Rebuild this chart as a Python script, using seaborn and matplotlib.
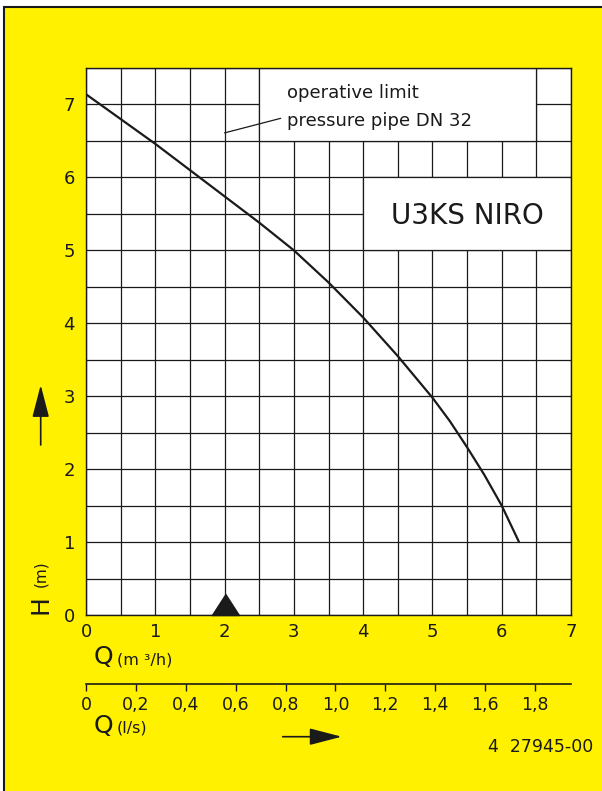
"""
Pump curve U3KS NIRO: head H over flow Q, with l/s scale below.
"""

import matplotlib
matplotlib.use("Agg")
import matplotlib.pyplot as plt
import seaborn as sns
from matplotlib.patches import Rectangle

# Curve data
flow_m3h = [0.0, 0.5, 1.0, 1.5, 2.0, 2.5, 3.0, 3.5, 4.0, 4.5, 5.0, 5.25, 5.5, 5.75, 6.0, 6.25]
head_m = [7.14, 6.80, 6.46, 6.10, 5.74, 5.38, 5.00, 4.56, 4.08, 3.55, 2.98, 2.66, 2.30, 1.92, 1.50, 1.00]

# triangle marker on the Q axis
mark_q = [2.0]
mark_h = [0.0]

# leader line of the "operative limit" note
leader_q = [2.0, 2.81]
leader_h = [6.61, 6.81]

q_ticks = [0, 1, 2, 3, 4, 5, 6, 7]
h_ticks = [0, 1, 2, 3, 4, 5, 6, 7]
ls_ticks = [0, 0.2, 0.4, 0.6, 0.8, 1.0, 1.2, 1.4, 1.6, 1.8]
ls_labels = ["0", "0,2", "0,4", "0,6", "0,8", "1,0", "1,2", "1,4", "1,6", "1,8"]

YELLOW = "#FFF100"
INK = "#1a1a1a"

sns.set_style("white")
plt.rcParams["font.family"] = ["DejaVu Sans"]

W, H = 602, 791
fig = plt.figure(figsize=(W / 100, H / 100), dpi=100)
fig.patch.set_facecolor("white")

# yellow sheet with frame on top/left
fig.add_artist(Rectangle((4 / W, -0.01), 1.0, 1 - 7 / H + 0.01, transform=fig.transFigure,
                         facecolor=YELLOW, edgecolor=INK, linewidth=1.5, zorder=0))


def px(x, y):
    """pixel (from top-left) -> figure fraction"""
    return x / W, 1 - y / H


left, bottom = 86 / W, 1 - 615 / H
ax = fig.add_axes([left, bottom, (571 - 86) / W, (615 - 68) / H])
ax.set_facecolor("white")

sns.lineplot(x=flow_m3h, y=head_m, color=INK, linewidth=1.6, ax=ax, zorder=3)
ax.plot(leader_q, leader_h, color=INK, linewidth=0.9, zorder=4)
ax.plot(mark_q, mark_h, linestyle="none", color=INK, clip_on=False, zorder=5,
        marker=[(-1, 0), (1, 0), (0, 1.55)], markersize=31)

ax.set_xlim(0, 7)
ax.set_ylim(0, 7.5)
ax.set_xticks(q_ticks)
ax.set_yticks(h_ticks)
ax.set_xticks([v + 0.5 for v in q_ticks[:-1]], minor=True)
ax.set_yticks([v + 0.5 for v in h_ticks], minor=True)
ax.set_axisbelow(True)
ax.grid(which="both", color=INK, linewidth=0.9)
ax.tick_params(which="both", length=0, labelsize=13, colors=INK)
ax.tick_params(axis="x", pad=6)
ax.tick_params(axis="y", pad=8)
for s in ax.spines.values():
    s.set_color(INK)
    s.set_linewidth(1.0)

# white note boxes laid over the grid
ax.add_patch(Rectangle((2.5, 6.5), 4.0, 1.0, facecolor="white", edgecolor=INK,
                       linewidth=0.9, zorder=2.5))
ax.add_patch(Rectangle((4.0, 5.0), 3.0, 1.0, facecolor="white", edgecolor=INK,
                       linewidth=0.9, zorder=2.5))
ax.text(2.9, 7.16, "operative limit", fontsize=13, va="center", ha="left", color=INK, zorder=6)
ax.text(2.9, 6.77, "pressure pipe DN 32", fontsize=13, va="center", ha="left", color=INK, zorder=6)
ax.text(5.5, 5.47, "U3KS NIRO", fontsize=20, va="center", ha="center", color=INK, zorder=6)

# second flow scale in l/s
ax2 = ax.secondary_xaxis(-69 / 547, functions=(lambda q: q / 3.6, lambda q: q * 3.6))
ax2.set_xticks(ls_ticks, ls_labels)
ax2.tick_params(length=5, width=1.0, direction="out", labelsize=12.5, pad=4, colors=INK)
ax2.spines["bottom"].set_color(INK)
ax2.spines["bottom"].set_linewidth(1.2)

# axis titles
fig.text(*px(103, 657), "Q", fontsize=18, ha="center", va="center", color=INK)
fig.text(*px(117, 660), "(m ³/h)", fontsize=11.5, ha="left", va="center", color=INK)
fig.text(*px(103, 726), "Q", fontsize=18, ha="center", va="center", color=INK)
fig.text(*px(117, 728), "(l/s)", fontsize=11.5, ha="left", va="center", color=INK)
fig.text(*px(40.5, 605), "H", fontsize=18, ha="center", va="center", rotation=90, color=INK)
fig.text(*px(41, 574), "(m)", fontsize=11, ha="center", va="center", rotation=90, color=INK)
fig.text(*px(593, 747), "4  27945-00", fontsize=12.5, ha="right", va="center", color=INK)

# direction arrows
arrow = dict(arrowstyle="-|>,head_length=2.0,head_width=0.52", color=INK,
             linewidth=1.2, mutation_scale=10, shrinkA=0, shrinkB=0)
ax.annotate("", xy=(40.7, H - 385), xytext=(40.7, H - 445),
            xycoords="figure pixels", textcoords="figure pixels",
            arrowprops=dict(arrow, facecolor="#3b3a12"), annotation_clip=False)
ax.annotate("", xy=(341.7, H - 736.7), xytext=(282.7, H - 736.7),
            xycoords="figure pixels", textcoords="figure pixels",
            arrowprops=dict(arrow, facecolor="#3b3a12"), annotation_clip=False)

fig.savefig("out.png", dpi=100, facecolor=fig.get_facecolor())
